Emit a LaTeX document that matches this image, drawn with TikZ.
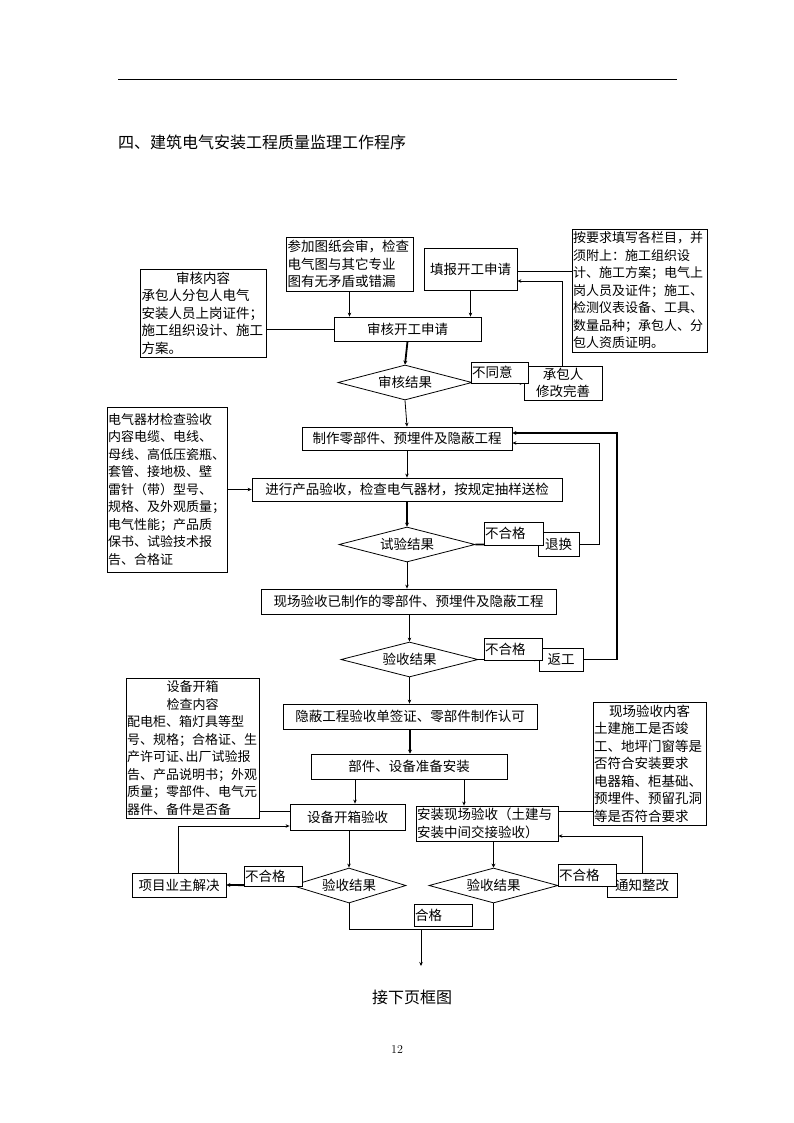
\documentclass[tikz,border=0pt]{standalone}
\usepackage{fontspec}
\newfontfamily\cjk{Noto Sans CJK SC}
\usetikzlibrary{shapes.geometric,arrows.meta}
\begin{document}
\begin{tikzpicture}[x=1pt,y=-1pt,
  bx/.style={draw, line width=0.8pt, inner sep=1pt, font=\cjk\fontsize{13.5}{17.5}\selectfont},
  sm/.style={font=\cjk\fontsize{13}{17.5}\selectfont},
  sz/.style n args={2}{minimum width=#1pt, minimum height=#2pt},
  tw/.style={text width=#1pt, align=left},
  dia/.style={draw, diamond, shape aspect=4, inner sep=0pt, line width=0.8pt, font=\cjk\fontsize{13.5}{16}\selectfont},
  ln/.style={line width=0.8pt},
  arr/.style={line width=0.8pt, -{Stealth[length=4pt,width=3.5pt]}},
  thk/.style={line width=1.8pt},
  tarr/.style={line width=1.8pt, -{Stealth[length=4pt,width=4pt]}}
]
\useasboundingbox (0,0) rectangle (794,1123);
\fill[white] (0,0) rectangle (794,1123);
% header
\draw[line width=1pt] (118,80) -- (677,80);
\node[anchor=west, inner sep=0pt, font=\cjk\fontsize{16}{18}\selectfont] (title) at (118,142) {四、建筑电气安装工程质量监理工作程序};

% top section
\node[bx, sz={127}{54}, tw=124] (canjia) at (349.5,264) {参加图纸会审，检查\\电气图与其它专业\\图有无矛盾或错漏};
\node[bx, sz={126}{88}, tw=123] (shnr) at (203,313) {\makebox[\linewidth]{审核内容}\\承包人分包人电气\\安装人员上岗证件；\\施工组织设计、施工\\方案。};
\node[bx, sz={147}{24}] (shsq) at (407.5,329) {审核开工申请};
\node[bx, sz={93}{42}] (tianbao) at (470.5,269) {填报开工申请};
\node[bx, sm, sz={135}{123}, tw=133] (anyq) at (639.5,290.5) {按要求填写各栏目，并\\须附上：施工组织设\\计、施工方案；电气上\\岗人员及证件；施工、\\检测仪表设备、工具、\\数量品种；承包人、分\\包人资质证明。};
\node[dia, sz={134}{35}] (d1) at (405,382.5) {审核结果};
\node[bx, sz={78}{34}, align=center] (chengbao) at (563,383) {承包人\\修改完善};

% middle section
\node[bx, sz={210}{23}] (zhizuo) at (407,438.5) {制作零部件、预埋件及隐蔽工程};
\node[bx, sz={310}{23}] (jinxing) at (407,489.5) {进行产品验收，检查电气器材，按规定抽样送检};
\node[bx, sm, sz={120}{165}, tw=118] (dianqi) at (167,489.5) {电气器材检查验收\\内容电缆、电线、\\母线、高低压瓷瓶、\\套管、接地极、壁\\雷针（带）型号、\\规格、及外观质量；\\电气性能；产品质\\保书、试验技术报\\告、合格证};
\node[dia, sz={136}{35}] (d2) at (407,544.5) {试验结果};
\node[bx, sz={41}{24}] (tuihuan) at (558.5,544) {退换};
\node[bx, sz={295}{25}] (xcys) at (408.5,601.5) {现场验收已制作的零部件、预埋件及隐蔽工程};
\node[dia, sz={137}{35}] (d3) at (409.5,659.5) {验收结果};
\node[bx, sz={44}{23}] (fangong) at (561,659.5) {返工};
\node[bx, sz={254}{25}] (yinbi) at (410,716.5) {隐蔽工程验收单签证、零部件制作认可};
\node[bx, sz={196}{25}] (bujian) at (409,766.5) {部件、设备准备安装};

% bottom section
\node[bx, sm, sz={133}{140}, tw=131] (sbnr) at (192.5,748) {\makebox[\linewidth]{设备开箱}\\\makebox[\linewidth]{检查内容}\\配电柜、箱灯具等型\\号、规格；合格证、生\\产许可证､出厂试验报\\告、产品说明书；外观\\质量；零部件、电气元\\器件、备件是否备};
\node[bx, sz={115}{26}] (sbys) at (347.5,817) {设备开箱验收};
\node[dia, sz={114}{35}] (d4) at (349,885.5) {验收结果};
\node[bx, sz={94}{24}] (xiangmu) at (179,885) {项目业主解决};
\node[bx, sz={142}{35}, tw=140] (anzh) at (487,823.5) {安装现场验收（土建与\\安装中间交接验收）};
\node[dia, sz={129}{35}] (d5) at (493.5,885.5) {验收结果};
\node[bx, sz={70}{24}] (tongzhi) at (642,885) {通知整改};
\node[bx, sz={113}{123}, tw=111] (xcnr) at (649.5,763.5) {\makebox[\linewidth]{现场验收内客}\\土建施工是否竣\\工、地坪门窗等是\\否符合安装要求\\电器箱、柜基础、\\预埋件、预留孔洞\\等是否符合要求};

\node[inner sep=0pt, font=\cjk\fontsize{16}{18}\selectfont] (next) at (412,997) {接下页框图};
\node[inner sep=0pt, font=\fontsize{12}{14}\selectfont] (pg) at (397,1049) {12};

% helper coordinates
\coordinate (r1) at (599,0);
\coordinate (r2) at (617,0);
\coordinate (c355) at (355,0);
\coordinate (c464) at (464,0);
\coordinate (j1) at (421,929);
\coordinate (e1) at (421,966);

% connectors top
\draw[arr] (canjia.south) -- (canjia.south |- shsq.north);
\draw[ln] (shnr.east |- shsq.west) -- (shsq.west);
\draw[arr] (tianbao.south) -- (tianbao.south |- shsq.north);
\draw[ln] ([yshift=-2pt]tianbao.east) -- ([yshift=-2pt]tianbao.east -| anyq.west);
\draw[tarr] (shsq.south) -- (d1.north);
\draw[tarr] (d1.east) -- (chengbao.west);
\draw[arr] ([xshift=-1pt]chengbao.north) |- ([yshift=-12pt]tianbao.east);
\draw[arr] (d1.south) -- (zhizuo.north);

% middle connectors
\draw[arr] (zhizuo.south) -- (jinxing.north);
\draw[arr] (dianqi.east) -- (dianqi.east -| jinxing.west);
\draw[tarr] (jinxing.south) -- (d2.north);
\draw[tarr] (d2.east) -- (tuihuan.west);
\draw[arr] (tuihuan.east) -- (tuihuan.east -| r1) |- ([yshift=-4.5pt]zhizuo.east);
\draw[arr] (d2.south) -- (d2.south |- xcys.north);
\draw[arr] (xcys.south -| d3.north) -- (d3.north);
\draw[arr] (d3.east) -- (fangong.west);
\draw[thk, -{Stealth[length=4pt,width=4pt]}] (fangong.east) -- (fangong.east -| r2) |- ([yshift=5.5pt]zhizuo.east);
\draw[arr] (d3.south) -- (d3.south |- yinbi.north);
\draw[tarr] (yinbi.south) -- (yinbi.south |- bujian.north);

% bottom connectors
\draw[arr] (bujian.south -| c355) -- (sbys.north -| c355);
\draw[arr] (bujian.south -| c464) -- (anzh.north -| c464);
\draw[ln] ([yshift=6pt]sbys.west) -- ([yshift=6pt]sbys.west -| sbnr.east);
\draw[arr] (sbys.south -| d4.north) -- (d4.north);
\draw[tarr] (d4.west) -- (xiangmu.east);
\draw[arr] ([xshift=-1pt]xiangmu.north) |- ([yshift=-9pt]sbys.west);
\draw[ln] (d4.south) -- (d4.south |- j1) -- (d5.south |- j1) -- (d5.south);
\draw[arr] (j1) -- (e1);
\draw[tarr] (anzh.south -| d5.north) -- (d5.north);
\draw[tarr] (d5.east) -- (tongzhi.west);
\draw[arr] (tongzhi.north) |- ([yshift=-12.5pt]anzh.east);
\draw[ln] ([yshift=12.5pt]anzh.east) -- ([yshift=12.5pt]anzh.east -| xcnr.west);

% condition labels (drawn over the lines)
\node[bx, fill=white, sz={57}{21}, tw=55] (l1) at (499.5,372.5) {不同意};
\node[bx, fill=white, sz={59}{23}, tw=57] (l2) at (513.5,533.5) {不合格};
\node[bx, fill=white, sz={58}{22}, tw=56] (l3) at (513,649) {不合格};
\node[bx, fill=white, sz={58}{20}, tw=56] (l4) at (273,876) {不合格};
\node[bx, fill=white, sz={58}{22}, tw=56] (l5) at (443,915) {合格};
\node[bx, fill=white, sz={58}{22}, tw=56] (l6) at (587,875) {不合格};
\end{tikzpicture}
\end{document}
